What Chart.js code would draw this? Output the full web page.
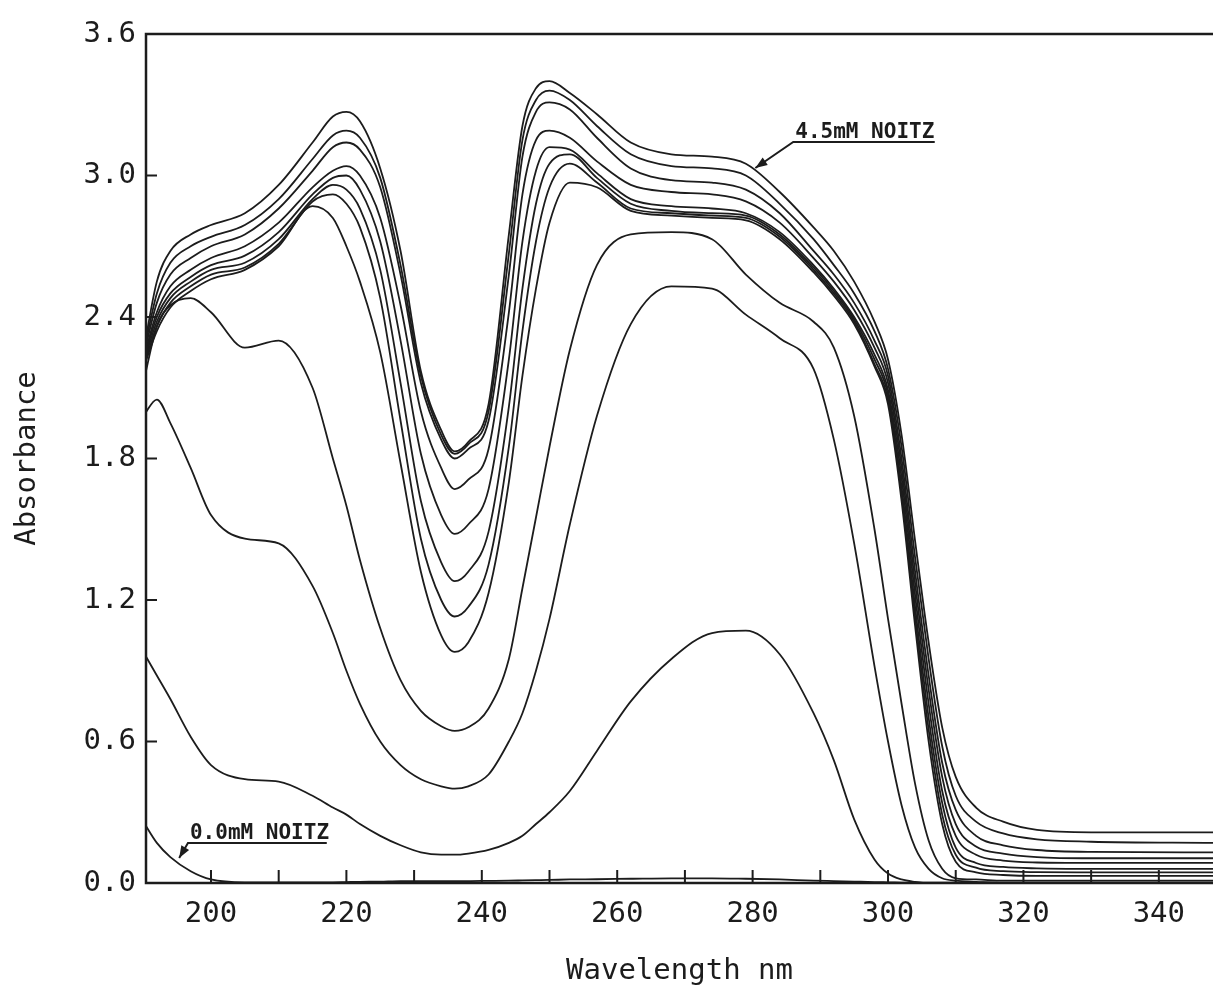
<!DOCTYPE html>
<html><head><meta charset="utf-8">
<script src="https://cdn.jsdelivr.net/npm/chart.js@4.4.1/dist/chart.umd.min.js"></script>
<style>html,body{margin:0;padding:0;background:#fff;overflow:hidden}#wrap{width:1213px;height:991px;position:relative}</style>
</head><body><div id="wrap"><canvas id="c" width="1213" height="991"></canvas></div>
<script>
// Wavelength grid (nm)
const wavelengths = [190,192,194,197,200,205,210,215,218,220,222,225,228,231,234,236,238,241,244,246,248,250,253,257,262,268,274,279,284,289,292,295,298,300,302,304,306,308,310,313,317,322,330,348];

const xTickValues = [200,210,220,230,240,250,260,270,280,290,300,310,320,330,340];
const yTickValues = [0,0.6,1.2,1.8,2.4,3.0,3.6];

// Absorbance spectra (top = 4.5 mM NOITZ, bottom = 0.0 mM NOITZ)
const noitz45mM = [2.25,2.55,2.68,2.75,2.79,2.84,2.96,3.14,3.25,3.27,3.23,3.03,2.68,2.17,1.92,1.83,1.87,2.03,2.75,3.21,3.37,3.40,3.35,3.26,3.14,3.09,3.08,3.05,2.93,2.78,2.68,2.55,2.38,2.22,1.90,1.45,1.02,0.66,0.45,0.32,0.26,0.225,0.215,0.215];
const spectrum2 = [2.24,2.50,2.63,2.70,2.74,2.79,2.90,3.07,3.17,3.19,3.16,2.99,2.62,2.15,1.90,1.82,1.86,2.00,2.67,3.15,3.32,3.36,3.32,3.21,3.09,3.04,3.03,3.00,2.88,2.73,2.62,2.50,2.34,2.18,1.85,1.38,0.95,0.58,0.37,0.26,0.21,0.185,0.175,0.17];
const spectrum3 = [2.23,2.46,2.58,2.65,2.70,2.75,2.86,3.02,3.12,3.14,3.11,2.95,2.58,2.12,1.88,1.80,1.84,1.96,2.58,3.08,3.27,3.31,3.28,3.16,3.03,2.98,2.97,2.94,2.84,2.68,2.58,2.46,2.30,2.15,1.80,1.32,0.88,0.51,0.31,0.20,0.16,0.14,0.132,0.13];
const spectrum4 = [2.22,2.42,2.53,2.60,2.65,2.70,2.80,2.95,3.02,3.04,3.00,2.82,2.45,2.00,1.76,1.67,1.71,1.84,2.42,2.92,3.15,3.19,3.16,3.06,2.96,2.93,2.92,2.89,2.80,2.65,2.55,2.43,2.27,2.12,1.76,1.27,0.82,0.45,0.25,0.155,0.125,0.11,0.105,0.105];
const spectrum5 = [2.21,2.40,2.50,2.57,2.62,2.66,2.76,2.92,2.99,3.00,2.94,2.72,2.30,1.82,1.56,1.48,1.52,1.67,2.22,2.72,3.02,3.12,3.11,3.01,2.90,2.87,2.86,2.84,2.76,2.62,2.52,2.40,2.24,2.09,1.72,1.22,0.76,0.39,0.20,0.12,0.095,0.087,0.085,0.085];
const spectrum6 = [2.20,2.38,2.48,2.55,2.60,2.63,2.73,2.90,2.96,2.94,2.86,2.60,2.12,1.62,1.36,1.28,1.32,1.49,2.02,2.52,2.88,3.05,3.09,2.99,2.88,2.85,2.84,2.83,2.75,2.61,2.51,2.39,2.22,2.07,1.68,1.17,0.70,0.34,0.15,0.085,0.068,0.062,0.06,0.06];
const spectrum7 = [2.19,2.36,2.46,2.53,2.58,2.61,2.71,2.89,2.92,2.88,2.78,2.48,1.96,1.46,1.20,1.13,1.17,1.35,1.85,2.34,2.72,2.95,3.05,2.97,2.86,2.84,2.83,2.82,2.74,2.60,2.50,2.38,2.20,2.05,1.65,1.13,0.65,0.29,0.12,0.065,0.05,0.046,0.045,0.045];
const spectrum8 = [2.18,2.34,2.44,2.51,2.56,2.60,2.70,2.87,2.82,2.70,2.55,2.25,1.78,1.32,1.05,0.98,1.02,1.23,1.70,2.15,2.52,2.80,2.97,2.95,2.85,2.83,2.82,2.81,2.73,2.59,2.49,2.37,2.19,2.03,1.62,1.09,0.60,0.25,0.09,0.045,0.034,0.03,0.03,0.03];
const spectrum9 = [2.12,2.36,2.45,2.48,2.42,2.27,2.30,2.10,1.80,1.60,1.37,1.08,0.86,0.73,0.665,0.645,0.66,0.74,0.95,1.25,1.55,1.85,2.26,2.62,2.75,2.76,2.73,2.58,2.46,2.38,2.27,1.98,1.50,1.12,0.76,0.42,0.18,0.06,0.02,0.015,0.01,0.01,0.01,0.01];
const spectrum10 = [1.98,2.05,1.95,1.76,1.56,1.46,1.44,1.26,1.06,0.90,0.76,0.60,0.50,0.44,0.41,0.40,0.41,0.46,0.60,0.72,0.90,1.12,1.52,1.98,2.37,2.53,2.52,2.41,2.31,2.18,1.88,1.44,0.92,0.60,0.33,0.15,0.06,0.02,0.01,0.005,0,0,0,0];
const spectrum11 = [0.98,0.88,0.78,0.62,0.50,0.44,0.43,0.37,0.32,0.29,0.25,0.20,0.16,0.13,0.12,0.12,0.125,0.14,0.17,0.20,0.25,0.30,0.39,0.56,0.77,0.95,1.06,1.07,0.97,0.72,0.52,0.27,0.10,0.04,0.015,0.005,0,0,0,0,0,0,0,0];
const noitz00mM = [0.26,0.17,0.11,0.05,0.015,0.003,0.003,0.003,0.003,0.004,0.005,0.006,0.008,0.008,0.008,0.008,0.008,0.009,0.01,0.011,0.012,0.013,0.015,0.016,0.018,0.02,0.02,0.018,0.015,0.01,0.008,0.006,0.004,0.003,0.002,0.001,0.001,0.001,0.001,0.001,0.001,0.001,0.001,0.001];

const seriesList = [noitz45mM,spectrum2,spectrum3,spectrum4,spectrum5,spectrum6,spectrum7,spectrum8,spectrum9,spectrum10,spectrum11,noitz00mM];

const annotations = [
  {text:'4.5mM NOITZ', textX:286.0, lineY:3.142, lineEndX:306.9, tipX:280.4, tipY:3.032},
  {text:'0.0mM NOITZ', textX:196.6, lineY:0.170, lineEndX:217.1, tipX:195.3, tipY:0.106}
];

const INK = '#1c1c1c';
const tickFont = {family:'DejaVu Sans Mono', size:29, weight:'normal'};

const framePlugin = {
  id:'frame',
  afterDraw(chart){
    const {ctx, chartArea:a, scales:{x, y}} = chart;
    ctx.save();
    ctx.strokeStyle = INK;
    ctx.lineCap = 'butt';
    ctx.lineWidth = 2.5;
    ctx.beginPath();
    ctx.moveTo(a.right + 2, a.top); ctx.lineTo(a.left, a.top); ctx.lineTo(a.left, a.bottom); ctx.lineTo(a.right + 2, a.bottom);
    ctx.stroke();
    ctx.lineWidth = 2;
    ctx.beginPath();
    xTickValues.forEach(v => { const px = x.getPixelForValue(v); ctx.moveTo(px, a.bottom); ctx.lineTo(px, a.bottom - 13); });
    yTickValues.forEach(v => { if (v <= 0 || v >= 3.6) return; const py = y.getPixelForValue(v); ctx.moveTo(a.left, py); ctx.lineTo(a.left + 11, py); });
    ctx.stroke();
    ctx.font = 'bold 21px "DejaVu Sans Mono"';
    ctx.fillStyle = INK;
    ctx.textAlign = 'left';
    ctx.textBaseline = 'alphabetic';
    annotations.forEach(an => {
      const x0 = x.getPixelForValue(an.textX), y0 = y.getPixelForValue(an.lineY);
      const x1 = x.getPixelForValue(an.lineEndX);
      const tx = x.getPixelForValue(an.tipX), ty = y.getPixelForValue(an.tipY);
      ctx.lineWidth = 2;
      ctx.beginPath(); ctx.moveTo(x1, y0); ctx.lineTo(x0, y0); ctx.lineTo(tx, ty); ctx.stroke();
      const ang = Math.atan2(ty - y0, tx - x0);
      const L = 12, W = 4.5;
      ctx.beginPath();
      ctx.moveTo(tx, ty);
      ctx.lineTo(tx - L*Math.cos(ang) + W*Math.sin(ang), ty - L*Math.sin(ang) - W*Math.cos(ang));
      ctx.lineTo(tx - L*Math.cos(ang) - W*Math.sin(ang), ty - L*Math.sin(ang) + W*Math.cos(ang));
      ctx.closePath(); ctx.fill();
      ctx.fillText(an.text, x0 + 2, y0 - 4);
    });
    ctx.restore();
  }
};

new Chart(document.getElementById('c'), {
  type:'line',
  data:{
    datasets: seriesList.map((s, i) => ({
      label: 'spectrum ' + (i+1),
      data: wavelengths.map((w, j) => ({x:w, y:s[j]})),
      borderColor: INK,
      borderWidth: 1.8,
      pointRadius: 0,
      fill: false,
      cubicInterpolationMode: 'monotone'
    }))
  },
  options:{
    responsive:false,
    animation:false,
    devicePixelRatio:1,
    layout:{padding:{top:34, left:0, right:0, bottom:0}},
    plugins:{legend:{display:false}, tooltip:{enabled:false}},
    scales:{
      x:{
        type:'linear', min:190.4, max:348,
        afterBuildTicks: s => { s.ticks = xTickValues.map(v => ({value:v})); },
        afterFit: s => { s.height = 108; },
        ticks:{autoSkip:false, maxRotation:0, padding:14, color:INK, font:tickFont,
          callback: v => (v % 20 === 0 ? String(v) : '')},
        grid:{display:false, drawTicks:false},
        border:{display:false},
        title:{display:true, text:'Wavelength nm', color:INK, font:{family:'DejaVu Sans Mono', size:29}, padding:{top:0, bottom:2}}
      },
      y:{
        type:'linear', min:0, max:3.6,
        afterBuildTicks: s => { s.ticks = yTickValues.map(v => ({value:v})); },
        afterFit: s => { s.width = 146; },
        ticks:{autoSkip:false, padding:10, color:INK, font:tickFont,
          callback: v => Number(v).toFixed(1)},
        grid:{display:false, drawTicks:false},
        border:{display:false},
        title:{display:true, text:'Absorbance', color:INK, font:{family:'DejaVu Sans Mono', size:29}, padding:{top:10, bottom:0}}
      }
    }
  },
  plugins:[framePlugin]
});
</script></body></html>
